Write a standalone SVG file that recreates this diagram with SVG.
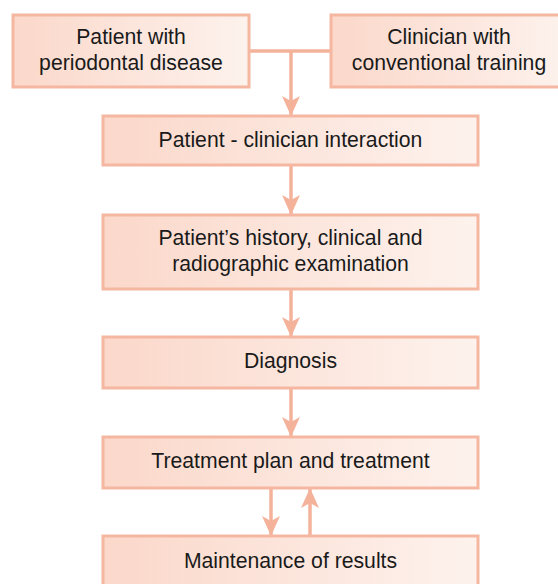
<svg xmlns="http://www.w3.org/2000/svg" width="558" height="584" viewBox="0 0 558 584">
  <defs>
    <linearGradient id="boxFill" x1="0" y1="0" x2="1" y2="0">
      <stop offset="0" stop-color="#fbd8ca"/>
      <stop offset="1" stop-color="#fdf2ed"/>
    </linearGradient>
    <marker id="head" markerUnits="userSpaceOnUse" markerWidth="18" markerHeight="18" refX="19" refY="9" orient="auto">
      <path d="M0,0 L20,9 L0,18 L5,9 Z" fill="#f4b29b"/>
    </marker>
    <style>
      .box { fill: url(#boxFill); stroke: #f5b7a1; stroke-width: 3; }
      .lbl { font-family: "Liberation Sans", Arial, sans-serif; font-size: 21.2px; fill: #1a1a1a; text-anchor: middle; }
      .wire { fill: none; stroke: #f4b29b; stroke-width: 3.5; }
      .arrow { fill: none; stroke: #f4b29b; stroke-width: 3.5; marker-end: url(#head); }
    </style>
  </defs>
  <rect width="558" height="584" fill="#ffffff"/>

  <g id="connectors">
    <path class="wire" d="M249,51 H331"/>
    <path class="arrow" d="M291,51 V115"/>
    <path class="arrow" d="M291,165 V214"/>
    <path class="arrow" d="M291,289 V336"/>
    <path class="arrow" d="M291,388 V436"/>
    <path class="arrow" d="M271,488 V535"/>
    <path class="arrow" d="M310,536 V489"/>
  </g>

  <g id="patient">
    <rect class="box" x="13" y="15" width="236" height="72"/>
    <text class="lbl" x="131" y="44">Patient with</text>
    <text class="lbl" x="131" y="70">periodontal disease</text>
  </g>

  <g id="clinician">
    <rect class="box" x="331" y="15" width="236" height="72"/>
    <text class="lbl" x="449" y="44">Clinician with</text>
    <text class="lbl" x="449" y="70">conventional training</text>
  </g>

  <g id="interaction">
    <rect class="box" x="103" y="116" width="375" height="49"/>
    <text class="lbl" x="290.5" y="147">Patient - clinician interaction</text>
  </g>

  <g id="examination">
    <rect class="box" x="103" y="215" width="375" height="74"/>
    <text class="lbl" x="290.5" y="245">Patient’s history, clinical and</text>
    <text class="lbl" x="290.5" y="271">radiographic examination</text>
  </g>

  <g id="diagnosis">
    <rect class="box" x="103" y="337" width="375" height="51"/>
    <text class="lbl" x="290.5" y="368">Diagnosis</text>
  </g>

  <g id="treatment">
    <rect class="box" x="103" y="437" width="375" height="51"/>
    <text class="lbl" x="290.5" y="468">Treatment plan and treatment</text>
  </g>

  <g id="maintenance">
    <rect class="box" x="103" y="536" width="375" height="50"/>
    <text class="lbl" x="290.5" y="568">Maintenance of results</text>
  </g>
</svg>
